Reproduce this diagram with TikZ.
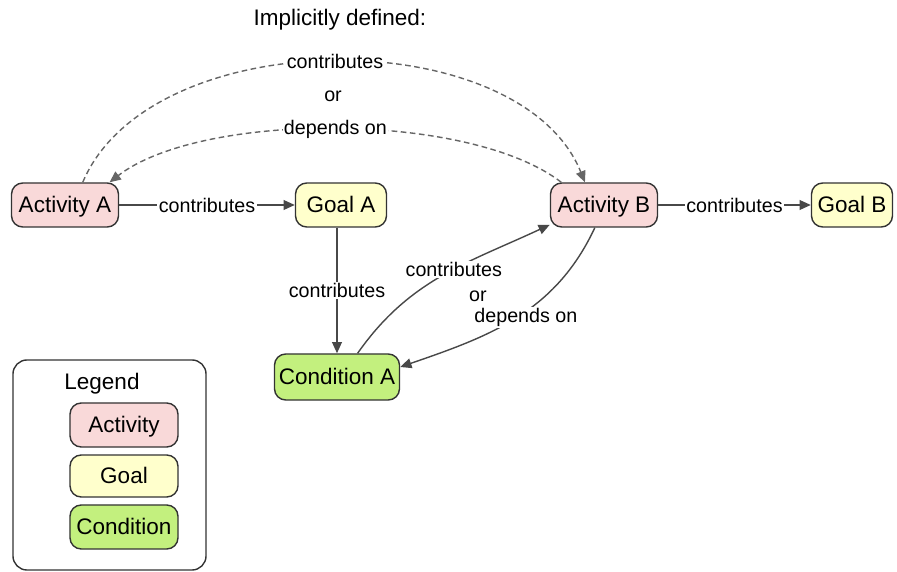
\documentclass[tikz,border=0pt]{standalone}
\usepackage{fontspec}
\setmainfont{Liberation Sans}
\usetikzlibrary{arrows.meta}
\definecolor{actfill}{HTML}{F9D9D9}
\definecolor{goalfill}{HTML}{FFFFCC}
\definecolor{condfill}{HTML}{C3F07E}
\definecolor{edgegray}{HTML}{484848}

\begin{document}
\begin{tikzpicture}[x=0.025cm,y=0.025cm,
    box/.style={draw=black!80,line width=1pt,rounded corners=8pt,minimum height=1.1cm,inner xsep=2pt,text height=12pt,text depth=2pt,font=\fontsize{16}{19}\selectfont},
    activity/.style={box,fill=actfill},
    goal/.style={box,fill=goalfill},
    condition/.style={box,fill=condfill},
    rel/.style={draw=edgegray,line width=1pt,-{Triangle[length=8pt,width=7pt]}},
    implied/.style={rel,draw=black!60,dash pattern=on 4pt off 2.5pt},
    lbl/.style={fill=white,inner sep=1pt,font=\fontsize{14}{17}\selectfont}]
    \useasboundingbox (0,0) rectangle (897,572);

    \node[activity,minimum width=2.675cm] (actA) at (65,367) {Activity A};
    \node[goal,minimum width=2.275cm] (goalA) at (341,367) {Goal A};
    \node[activity,minimum width=2.675cm] (actB) at (604,367) {Activity B};
    \node[goal,minimum width=2.025cm] (goalB) at (852,367) {Goal B};
    \node[condition,minimum width=3.125cm,minimum height=1.15cm] (condA) at (337,195) {Condition A};

    \draw[rel] (actA.east) -- node[lbl]{contributes} (goalA.west);
    \draw[rel] (actB.east) -- node[lbl]{contributes} (goalB.west);
    \draw[rel] (goalA.south -| condA.north) -- node[lbl]{contributes} (condA.north);
    \draw[rel] (condA.49) to[out=55,in=205] node[lbl,pos=0.56]{contributes} (actB.200);
    \draw[rel] (actB.248) to[out=245,in=19] node[lbl,pos=0.5,xshift=0.25cm]{depends on} (condA.9);
    \node[font=\fontsize{14}{17}\selectfont] (or1) at (478,276) {or};

    \node[font=\fontsize{16}{19}\selectfont] (title) at (340,552) {Implicitly defined:};
    \draw[implied] (actA.52) .. controls +(68,161) and +(-65,161) .. node[lbl]{contributes} (actB.130);
    \draw[implied] (actB.152) .. controls +(-92,71) and +(92,71) .. node[lbl]{depends on} (actA.27);
    \node[font=\fontsize{14}{17}\selectfont] (or2) at (333,476) {or};

    \node[draw=black!80,line width=1pt,rounded corners=10pt,minimum width=4.825cm,minimum height=5.25cm] (legend) at (109.5,107) {};
    \node[font=\fontsize{16}{19}\selectfont] (legendtitle) at (102,188) {Legend};
    \node[activity,minimum width=2.7cm] (legact) at (124,147) {Activity};
    \node[goal,minimum width=2.7cm,minimum height=1.05cm] (leggoal) at (124,96) {Goal};
    \node[condition,minimum width=2.7cm] (legcond) at (124,45) {Condition};
\end{tikzpicture}
\end{document}
